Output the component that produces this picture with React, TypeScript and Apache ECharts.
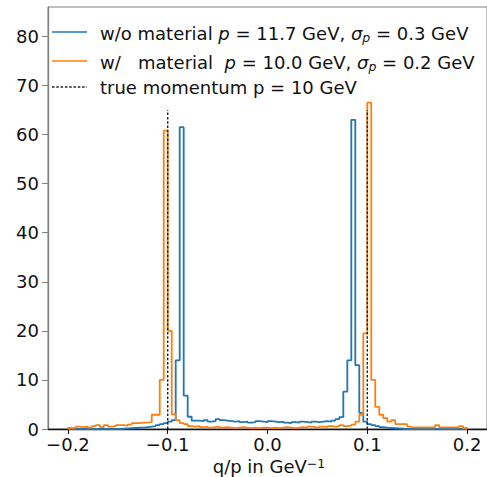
import React, { useEffect, useRef } from "react";
import * as echarts from "echarts";

// Histogram binning (q/p in 1/GeV)
const binLo = -0.2;
const binHi = 0.2;

// counts per bin, 100 bins from -0.2 to 0.2
const withoutMaterial = [
  0, 0, 0, 0, 0, 0, 0, 0, 0, 0,
  0, 0, 0, 0.05, 0.1, 0.15, 0.2, 0.25, 0.3, 0.4,
  0.5, 0.6, 0.8, 1.0, 1.2, 1.5, 1.8, 14, 61.5, 6.8,
  2.5, 1.7, 1.7, 1.6, 1.8, 1.5, 1.6, 2.0, 1.8, 1.7,
  1.6, 1.5, 1.6, 1.4, 1.5, 1.3, 1.4, 1.6, 1.5, 1.4,
  1.6, 1.5, 1.4, 1.5, 1.3, 1.2, 1.4, 1.3, 1.5, 1.4,
  1.3, 1.5, 1.4, 1.5, 1.6, 1.5, 1.7, 2.0, 2.4, 7.6,
  14, 63, 13, 3.3, 1.5, 1.0, 0.8, 0.6, 0.4, 0.3,
  0.2, 0.15, 0.1, 0.05, 0, 0, 0, 0, 0, 0,
  0, 0, 0, 0, 0, 0, 0, 0, 0, 0,
];

const withMaterial = [
  0.2, 0.3, 0.5, 0.4, 0.5, 0.3, 0.6, 0.8, 0.4, 0.8,
  0.5, 0.6, 0.8, 0.8, 0.7, 0.9, 1.2, 1.2, 1.3, 1.3,
  1.4, 2.9, 2.9, 10, 60.8, 20, 3.0, 1.8, 1.2, 1.0,
  0.6, 0.5, 0.6, 0.4, 0.5, 0.3, 0.4, 0.5, 0.3, 0.4,
  0.3, 0.2, 0.3, 0.4, 0.3, 0.2, 0.3, 0.2, 0.3, 0.3,
  0.2, 0.3, 0.2, 0.3, 0.4, 0.3, 0.2, 0.3, 0.4, 0.3,
  0.5, 0.4, 0.3, 0.5, 0.4, 0.6, 0.5, 0.6, 0.8, 0.6,
  0.7, 0.9, 1.5, 2.9, 19.5, 66.5, 10, 4.5, 2.9, 2.2,
  1.5, 1.8, 1.0, 1.0, 1.0, 0.5, 0.35, 0.35, 0.35, 0.35,
  0.35, 0.35, 0.8, 0.35, 0.35, 0.35, 0.35, 0.35, 0.6, 0.2,
];

const trueQoverP = [-0.1, 0.1];
const trueLineTop = 65;

const xTicks = [-0.2, -0.1, 0.0, 0.1, 0.2];
const yTicks = [0, 10, 20, 30, 40, 50, 60, 70, 80];
const xRange = [-0.22, 0.22];
const yRange = [0, 86];

const legendLabels = [
  "w/o material {i|p} = 11.7 GeV, {i|σ}{s|p} = 0.3 GeV",
  "w/   material  {i|p} = 10.0 GeV, {i|σ}{s|p} = 0.2 GeV",
  "true momentum p = 10 GeV",
];

const BLUE = "#1f77b4";
const ORANGE = "#ff7f0e";
const FONT = "DejaVu Sans";
const FS = 18;

function stepPoints(counts: number[]) {
  const w = (binHi - binLo) / counts.length;
  const pts: number[][] = [[binLo, 0]];
  counts.forEach((c, i) => {
    const a = binLo + i * w;
    pts.push([a, c], [a + w, c]);
  });
  pts.push([binHi, 0]);
  return pts;
}

function fmt(v: number) {
  const s = Math.abs(v).toFixed(1);
  return v < -1e-9 ? "\u2212" + s : s;
}

export default function App() {
  const ref = useRef<HTMLDivElement>(null);
  useEffect(() => {
    if (!ref.current) return;
    const chart = echarts.init(ref.current, undefined, { renderer: "svg" });
    const rich = {
      i: { fontFamily: FONT, fontSize: FS, fontStyle: "italic", color: "#111" },
      s: {
        fontFamily: FONT,
        fontSize: 12.5,
        fontStyle: "italic",
        color: "#111",
        verticalAlign: "bottom",
        padding: [8, 0, 0, 0],
      },
    };
    const legendY = [32, 61, 87];
    const legendColors = [BLUE, ORANGE, "#222"];
    const graphics: any[] = [];
    legendLabels.forEach((t, k) => {
      graphics.push({
        type: "line",
        shape: { x1: 52, y1: legendY[k], x2: 87, y2: legendY[k] },
        style: {
          stroke: legendColors[k],
          lineWidth: k === 2 ? 1.3 : 1.6,
          lineDash: k === 2 ? [2.5, 1.8] : null,
        },
        z: 10,
      });
      graphics.push({
        type: "text",
        x: 100,
        y: legendY[k] + (k < 2 ? 1 : 0),
        style: {
          text: t,
          fontFamily: FONT,
          fontSize: FS,
          fill: "#111",
          verticalAlign: "middle",
          rich,
        },
        z: 10,
      });
    });
    graphics.push({
      type: "text",
      x: 269,
      y: 466,
      style: {
        text: "q/p in GeV{u|\u22121}",
        fontFamily: FONT,
        fontSize: FS,
        fill: "#111",
        align: "center",
        verticalAlign: "middle",
        rich: {
          u: { fontFamily: FONT, fontSize: 12.5, color: "#111", verticalAlign: "top", padding: [0, 0, 6, 0] },
        },
      },
    });

    const dashedData: any[] = [];
    trueQoverP.forEach((x, k) => {
      if (k > 0) dashedData.push("-");
      dashedData.push([x, 0], [x, trueLineTop]);
    });

    chart.setOption({
      animation: false,
      grid: {
        left: 48,
        top: 7,
        width: 442,
        height: 422,
        show: true,
        borderColor: "#808080",
        borderWidth: 1,
      },
      xAxis: {
        type: "value",
        min: xRange[0],
        max: xRange[1],
        splitLine: { show: false },
        axisLine: { show: true, onZero: false, lineStyle: { color: "#111", width: 1.3 } },
        axisTick: { show: true, customValues: xTicks, length: 5, lineStyle: { color: "#111" } },
        axisLabel: {
          customValues: xTicks,
          formatter: (v: number) => fmt(v),
          fontFamily: FONT,
          fontSize: FS,
          color: "#111",
          margin: 6,
        },
      },
      yAxis: {
        type: "value",
        min: yRange[0],
        max: yRange[1],
        splitLine: { show: false },
        axisLine: { show: true, onZero: false, lineStyle: { color: "#808080", width: 1.3 } },
        axisTick: { show: true, customValues: yTicks, length: 6, lineStyle: { color: "#808080" } },
        axisLabel: {
          customValues: yTicks,
          fontFamily: FONT,
          fontSize: FS,
          color: "#111",
          margin: 9,
        },
      },
      series: [
        {
          type: "line",
          name: "w/o material",
          data: stepPoints(withoutMaterial),
          symbol: "none",
          lineStyle: { color: BLUE, width: 1.8 },
          z: 2,
        },
        {
          type: "line",
          name: "w/ material",
          data: stepPoints(withMaterial),
          symbol: "none",
          lineStyle: { color: ORANGE, width: 1.8 },
          z: 3,
        },
        {
          type: "line",
          name: "true momentum",
          data: dashedData,
          connectNulls: false,
          symbol: "none",
          lineStyle: { color: "#222", width: 1.4, type: [2.5, 1.8] },
          z: 4,
        },
      ],
      graphic: graphics,
    });
    return () => chart.dispose();
  }, []);
  return (
    <div
      ref={ref}
      style={{ position: "fixed", left: 0, top: 0, width: 487, height: 477, background: "#fff" }}
    />
  );
}
